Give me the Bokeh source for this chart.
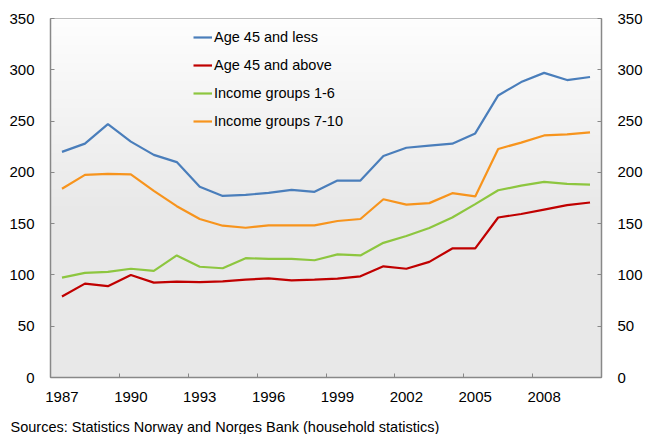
import numpy as np
from bokeh.plotting import figure
from bokeh.layouts import column
from bokeh.models import LinearAxis, FixedTicker, Label, Range1d
from bokeh.embed import file_html
from bokeh.resources import INLINE

years = list(range(1987, 2011))
age_le45 = [220, 228, 247, 230, 217, 210, 186, 177, 178, 180, 183, 181,
            192, 192, 216, 224, 226, 228, 238, 275, 288, 297, 290, 293]
age_ge45 = [79, 91.5, 89, 100, 92.5, 93.5, 93, 93.7, 95.4, 96.7, 94.7, 95.4,
            96.4, 98.6, 108.4, 106, 112.7, 125.8, 125.8, 156, 159.4, 163.7, 168, 170.6]
inc_1_6 = [97.3, 102, 103, 106, 104, 119, 108, 106.5, 116.3, 115.7, 115.7, 114.3,
           120, 119, 131.3, 137.9, 145.7, 156, 169, 182.6, 187, 190.8, 188.8, 188]
inc_7_10 = [184, 197.6, 198.6, 198, 182, 167, 154.5, 148, 146, 148.3, 148.3, 148.3,
            152.6, 154.5, 173.8, 168.6, 170, 179.7, 176.5, 222.8, 229, 236, 237, 239]

series = [
    ("Age 45 and less", age_le45, "#4a7ebb"),
    ("Age 45 and above", age_ge45, "#c00000"),
    ("Income groups 1-6", inc_1_6, "#8dc63f"),
    ("Income groups 7-10", inc_7_10, "#f7941d"),
]

y_ticks = [0, 50, 100, 150, 200, 250, 300, 350]
x_label_years = [1987, 1990, 1993, 1996, 1999, 2002, 2005, 2008]
source_text = "Sources: Statistics Norway and Norges Bank (household statistics)"

x0, x1 = years[0] - 0.5, years[-1] + 0.5
y0, y1 = 0, 350

p = figure(width=645, height=415, output_backend="svg", toolbar_location=None,
           x_range=Range1d(x0, x1), y_range=Range1d(y0, y1),
           min_border_left=50, min_border_right=43, min_border_top=18,
           min_border_bottom=38)
p.background_fill_color = "#e8e8e8"
p.border_fill_color = "white"
p.outline_line_color = "#a6a6a6"
p.xgrid.visible = False
p.ygrid.visible = False

# vertical gradient background (white at top -> light gray)
n = 200
frac = np.linspace(0, 1, n)  # 0 bottom, 1 top
t = np.clip((frac - 0.45) / 0.55, 0, 1)
g = (232 + (254 - 232) * t).astype(np.uint32)
img = np.zeros((n, 1), dtype=np.uint32)
view = img.view(dtype=np.uint8).reshape((n, 1, 4))
view[:, 0, 0] = g
view[:, 0, 1] = g
view[:, 0, 2] = g
view[:, 0, 3] = 255
p.image_rgba(image=[img], x=x0, y=y0, dw=x1 - x0, dh=y1 - y0, level="image")

for name, vals, col in series:
    p.line(years, vals, line_color=col, line_width=2.2, legend_label=name)

font = "Liberation Sans"

# x axis
xa = p.xaxis[0]
xa.ticker = FixedTicker(ticks=x_label_years,
                        minor_ticks=[y - 0.5 for y in x_label_years] + [x1])
xa.major_tick_in = 0
xa.major_tick_out = 0
xa.minor_tick_in = 4
xa.minor_tick_out = 0
xa.minor_tick_line_color = "#888888"
xa.axis_line_color = "#888888"
xa.axis_line_width = 1.5
xa.major_label_text_font = font
xa.major_label_text_font_size = "15px"
xa.major_label_text_color = "black"
xa.major_label_standoff = 14

def style_y(ax, standoff):
    ax.ticker = FixedTicker(ticks=y_ticks)
    ax.major_tick_in = 4
    ax.major_tick_out = 0
    ax.major_tick_line_color = "#888888"
    ax.minor_tick_line_color = None
    ax.axis_line_color = "#888888"
    ax.axis_line_width = 1.5
    ax.major_label_text_font = font
    ax.major_label_text_font_size = "15px"
    ax.major_label_text_color = "black"
    ax.major_label_standoff = standoff

style_y(p.yaxis[0], 16)
ra = LinearAxis()
style_y(ra, 16)
p.add_layout(ra, "right")

lg = p.legend[0]
lg.location = (143, 246)
lg.padding = 0
lg.margin = 0
lg.spacing = 8
lg.label_height = 20
lg.glyph_height = 20
lg.glyph_width = 19
lg.label_standoff = 2
lg.label_text_font = font
lg.label_text_font_size = "14.5px"
lg.label_text_color = "black"
lg.background_fill_alpha = 0
lg.border_line_alpha = 0

# footer strip carrying the source note
foot = figure(width=645, height=19, output_backend="svg", toolbar_location=None,
              min_border=0, min_border_left=0, min_border_right=0,
              min_border_top=0, min_border_bottom=0,
              x_axis_type=None, y_axis_type=None)
foot.outline_line_color = None
foot.background_fill_color = "white"
foot.border_fill_color = "white"
foot.xgrid.visible = False
foot.ygrid.visible = False
label_x = 60
try:
    foot.frame_align = False
    label_x = 10
except Exception:
    label_x = 10
foot.add_layout(Label(text=source_text, x=label_x, y=8, x_units="screen", y_units="screen",
                      text_font=font, text_font_size="14.5px", text_color="black",
                      text_baseline="alphabetic", text_align="left"))

layout = column(p, foot, spacing=0)
open("out.html", "w").write(file_html(layout, INLINE))
